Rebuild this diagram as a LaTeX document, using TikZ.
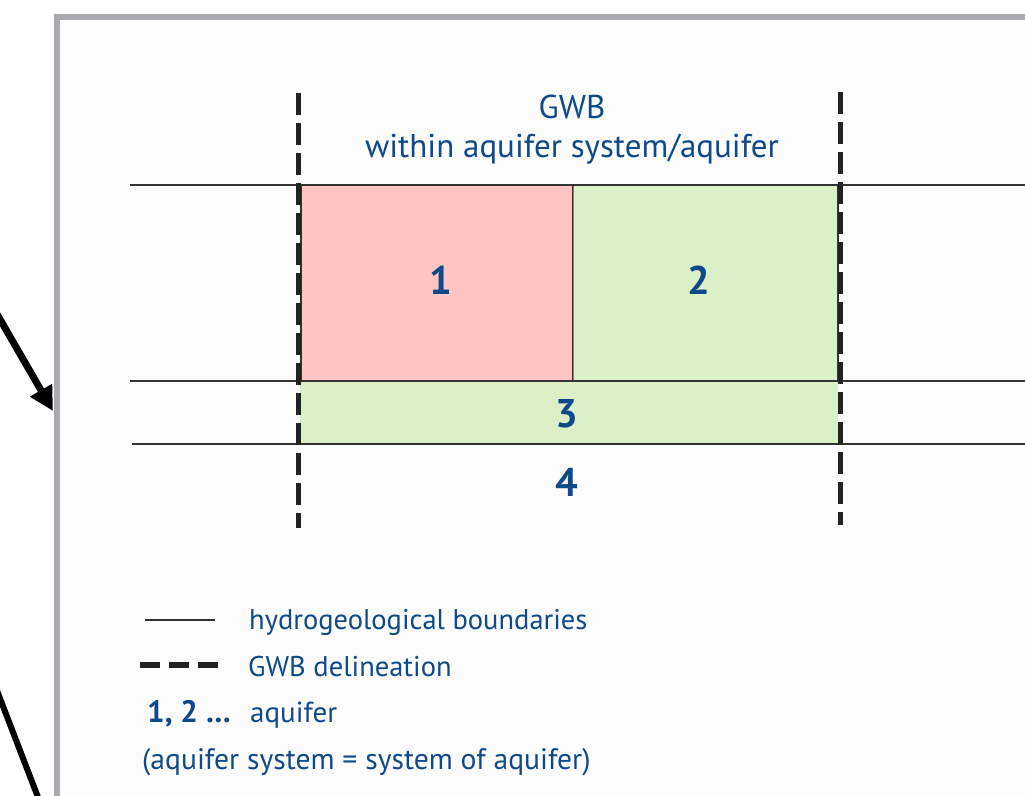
\documentclass[tikz,border=0pt]{standalone}
\usepackage{fontspec}
\setmainfont{PT Sans}
\usetikzlibrary{arrows.meta}
\definecolor{txtblue}{HTML}{0E4A8A}
\definecolor{framegray}{HTML}{AAABAF}
\definecolor{aqpink}{HTML}{FFC4C4}
\definecolor{aqgreen}{HTML}{DCF0C7}
\definecolor{bnd}{HTML}{333333}
\definecolor{delin}{HTML}{222222}
\begin{document}
\begin{tikzpicture}[x=1pt,y=-1pt,
  hbound/.style={draw=bnd, line width=2.4pt},
  delinline/.style={draw=delin, line width=5pt, dash pattern=on 22pt off 8pt},
  num/.style={text=txtblue, font=\fontsize{40}{44}\selectfont\bfseries, inner sep=0pt, anchor=base},
  ttl/.style={text=txtblue, font=\fontsize{33}{38}\selectfont, inner sep=0pt, anchor=base},
  lbl/.style={text=txtblue, font=\fontsize{28.5}{32}\selectfont, inner sep=0pt, anchor=base west},
  pointer/.style={draw=black, line width=7pt}]

\useasboundingbox (0,0) rectangle (1025,795);
\clip (0,0) rectangle (1025,795);

% panel frame
\draw[framegray, line width=6pt, fill=white!99!black] (57,17) rectangle (1140,900);

% aquifer blocks
\fill[aqgreen] (300,381) rectangle (838,444);
\filldraw[fill=aqpink, draw=bnd, line width=1.5pt] (301,185) rectangle (573,381);
\filldraw[fill=aqgreen, draw=bnd, line width=1.5pt] (573,185) rectangle (838,381);
\draw[gray, line width=1pt] (573,185) -- (573,381);

% hydrogeological boundaries
\draw[hbound] (130,185) -- (1030,185);
\draw[hbound] (130,381) -- (1030,381);
\draw[hbound] (132,444) -- (1030,444);

% GWB delineation
\coordinate (dlTop) at (298,93);
\coordinate (dlBot) at (298,528);
\coordinate (drTop) at (840,92);
\coordinate (drBot) at (840,525);
\draw[delinline] (dlTop) -- (dlBot);
\draw[delinline] (drTop) -- (drBot);

% title
\node[ttl] (title1) at (572,118) {GWB};
\node[ttl] (title2) at (572,157) {within aquifer system/aquifer};

% aquifer numbers
\node[num] (n1) at (441,294) {1};
\node[num] (n2) at (699,294) {2};
\node[num] (n3) at (567,427) {3};
\node[num] (n4) at (567,496) {4};

% legend
\coordinate (lsA) at (145,620);
\coordinate (lsB) at (215,620);
\draw[hbound] (lsA) -- (lsB);
\coordinate (ldA) at (140,665);
\coordinate (ldB) at (218,665);
\draw[draw=delin, line width=6pt, dash pattern=on 20pt off 9pt] (ldA) -- (ldB);
\node[lbl] (lg1) at (249,629) {hydrogeological boundaries};
\node[lbl] (lg2) at (248,676) {GWB delineation};
\node[lbl, font=\fontsize{31}{34}\selectfont\bfseries] (lg3a) at (147,722) {1, 2 \dots};
\node[lbl, font=\fontsize{29}{32}\selectfont] (lg3b) at (250,722) {aquifer};
\node[lbl, font=\fontsize{29.6}{32}\selectfont] (lg4) at (142,769) {(aquifer system = system of aquifer)};

% pointers coming in from the left
\coordinate (p1s) at (-10,302);
\coordinate (p1e) at (53,411);
\draw[pointer, -{Triangle[length=24pt,width=24pt]}] (p1s) -- (p1e);
\coordinate (p2s) at (-4,688);
\coordinate (p2e) at (41,805);
\draw[pointer, line width=6pt] (p2s) -- (p2e);
\end{tikzpicture}
\end{document}
